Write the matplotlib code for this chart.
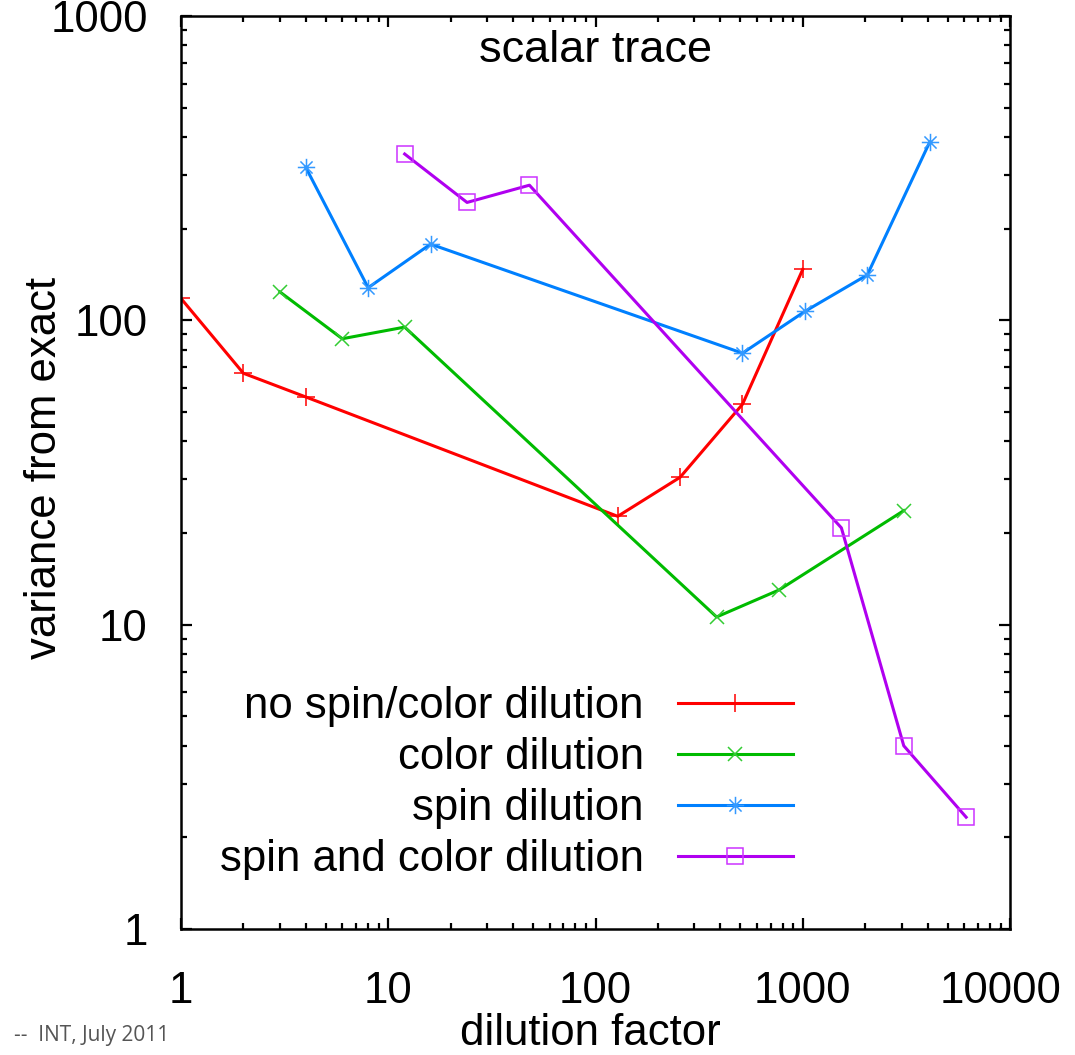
import numpy as np
import matplotlib
matplotlib.use("Agg")
import matplotlib.pyplot as plt
from matplotlib.path import Path
import matplotlib.transforms as mtrans
from matplotlib.ticker import LogLocator, NullFormatter, FixedLocator, FixedFormatter

plt.rcParams['font.family'] = ['Liberation Sans', 'DejaVu Sans']

# data
x_red = [1, 2, 4, 128, 256, 512, 1000]
y_red = [118, 67, 56, 22.7, 30.5, 53, 147]
x_green = [3, 6, 12, 384, 768, 3072]
y_green = [124, 87, 95, 10.6, 13.0, 23.7]
x_blue = [4, 8, 16, 512, 1024, 2048, 4096]
y_blue = [318, 128, 178, 78, 107, 141, 385]
x_purple = [12, 24, 48, 1536, 3072, 6144]
y_purple = [352, 244, 278, 20.8, 4.0, 2.33]
labels = ["no spin/color dilution", "color dilution", "spin dilution", "spin and color dilution"]
xticks = [1, 10, 100, 1000, 10000]
xticklabels = ["1", "10", "100", "1000", "10000"]
yticks = [1, 10, 100, 1000]
yticklabels = ["1", "10", "100", "1000"]

W, H = 1075, 1055
fig = plt.figure(figsize=(W/100, H/100), dpi=100)
L, R, T, B = 181, 1010, 16, 929
ax = fig.add_axes([L/W, 1-B/H, (R-L)/W, (B-T)/H])
ax.set_xscale('log'); ax.set_yscale('log')
ax.set_xlim(1, 10000); ax.set_ylim(1, 1000)

star = Path([(-1, 0), (1, 0), (0, -1), (0, 1), (-0.7, -0.7), (0.7, 0.7), (-0.7, 0.7), (0.7, -0.7)],
            [Path.MOVETO, Path.LINETO] * 4)

lw = 2.2
series = [
    (x_red, y_red, '#ff0000', '+', 12.5, '#ff0000'),
    (x_green, y_green, '#00bb00', 'x', 10, '#33cc33'),
    (x_blue, y_blue, '#0080ff', star, 12.5, '#3399ff'),
    (x_purple, y_purple, '#b000f0', 's', 11, '#cc33ff'),
]
for (xs, ys, c, m, ms, mc), lab in zip(series, labels):
    ax.plot(xs, ys, color=c, lw=lw, marker=m, ms=ms, mew=1.1, mfc='none', mec=mc, label=lab)

fs = 31.5
ax.xaxis.set_major_locator(FixedLocator(xticks))
ax.xaxis.set_major_formatter(FixedFormatter(xticklabels))
ax.yaxis.set_major_locator(FixedLocator(yticks))
ax.yaxis.set_major_formatter(FixedFormatter(yticklabels))
ax.xaxis.set_minor_locator(LogLocator(base=10, subs=np.arange(2, 10)))
ax.yaxis.set_minor_locator(LogLocator(base=10, subs=np.arange(2, 10)))
ax.xaxis.set_minor_formatter(NullFormatter())
ax.yaxis.set_minor_formatter(NullFormatter())
ax.tick_params(which='both', direction='in', top=True, right=True, width=1.6, colors='black')
ax.tick_params(which='major', length=8, labelsize=fs)
ax.tick_params(which='minor', length=4.5)
ax.tick_params(axis='x', which='major', pad=30)
ax.tick_params(axis='y', which='major', pad=24)
for s in ax.spines.values():
    s.set_linewidth(1.8)

# shift the last x tick label slightly left so it fits
fig.canvas.draw()
last = ax.get_xticklabels()[-1]
last.set_transform(last.get_transform() + mtrans.ScaledTranslation(-9/100, 0, fig.dpi_scale_trans))

ax.text(0.5, 0.962, "scalar trace", transform=ax.transAxes, ha='center', va='center', fontsize=32.5)

leg = ax.legend(loc='lower right', bbox_to_anchor=((793-L)/(R-L), (B-880)/(B-T)),
                frameon=False, markerfirst=False, fontsize=fs, handlelength=2.64,
                handletextpad=0.77, labelspacing=0.23, borderpad=0, borderaxespad=0)

fig.text(45/W, 1-468/H, "variance from exact", rotation=90, ha='center', va='center', fontsize=fs)
fig.text(590/W, 1/H, "dilution factor", ha='center', va='bottom', fontsize=fs)
fig.text(14/W, 1-1035/H, "--  INT, July 2011", ha='left', va='center', fontsize=15,
         color='#555555', family=['Open Sans', 'DejaVu Sans'])

fig.savefig("out.png", dpi=100)
